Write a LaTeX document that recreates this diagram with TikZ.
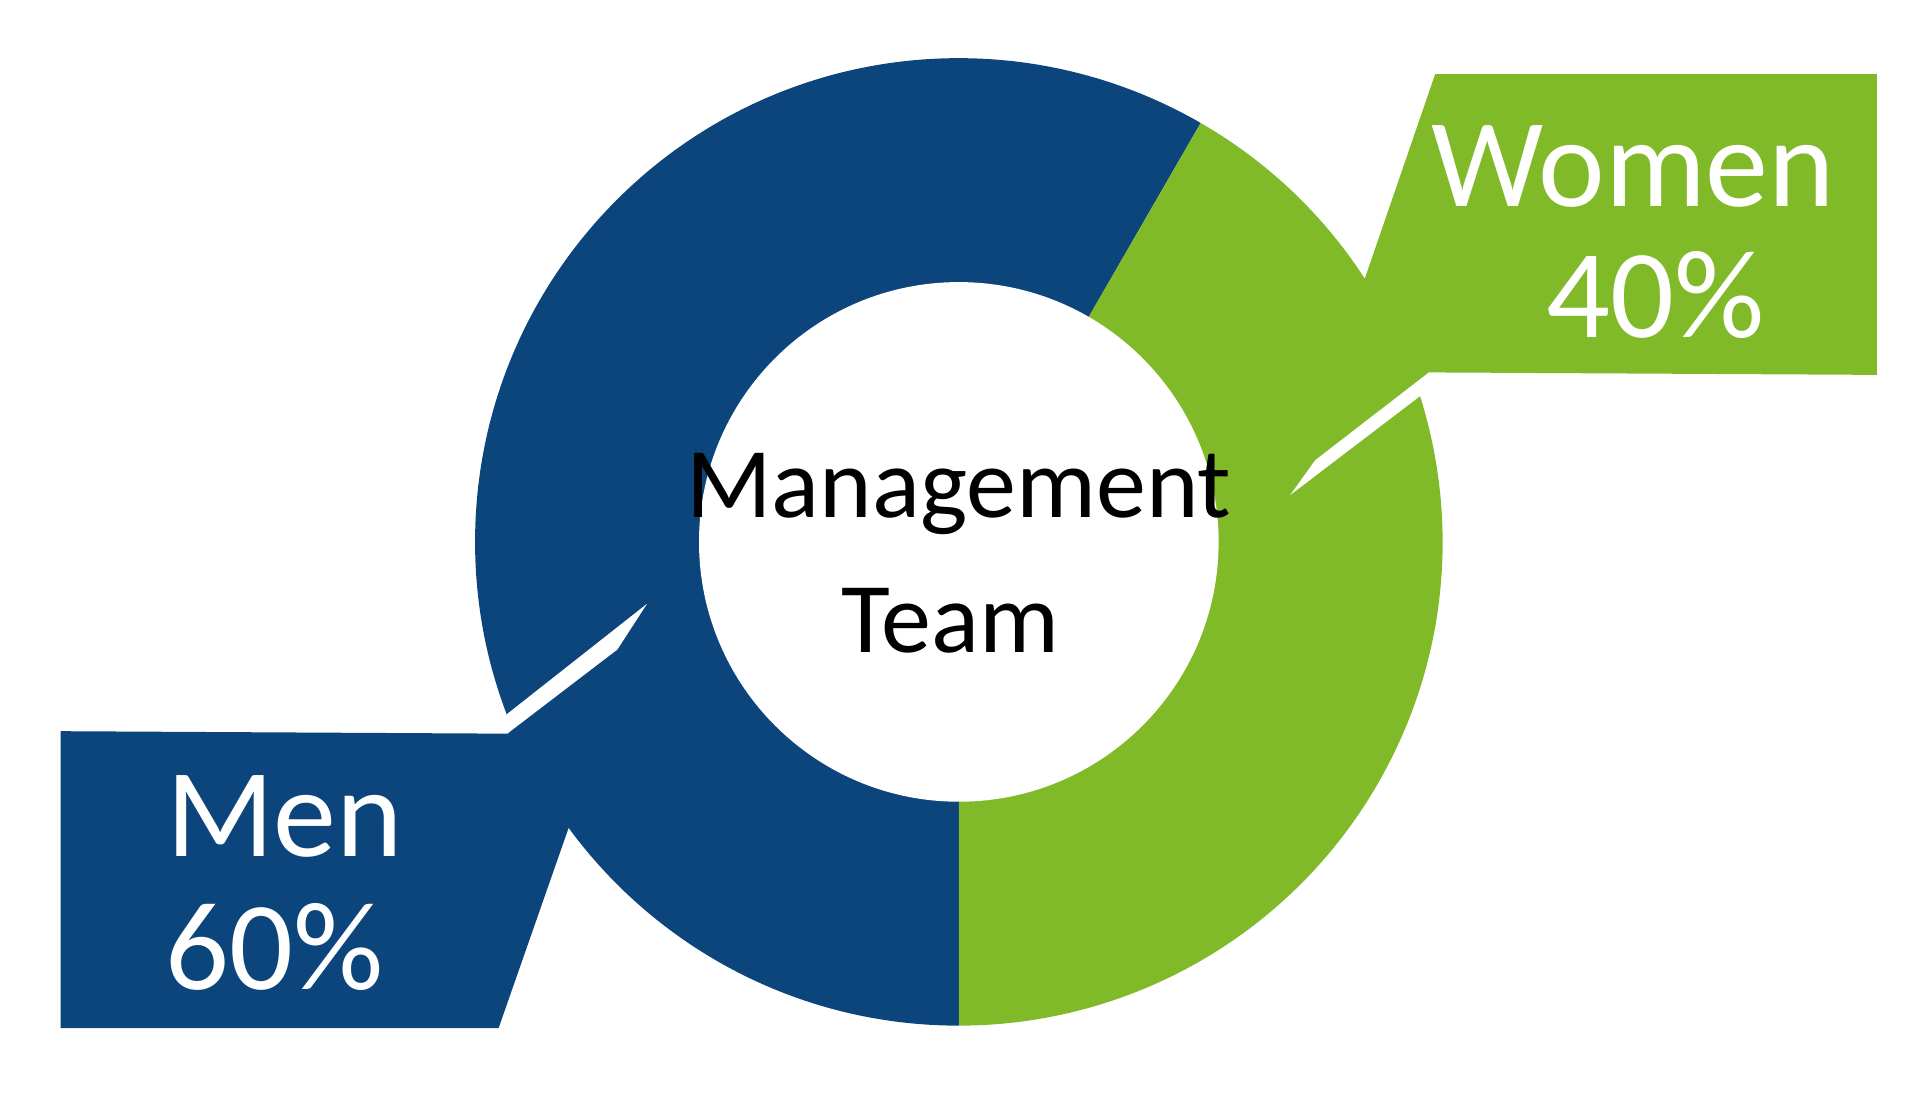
\documentclass[tikz,border=0pt]{standalone}
\usepackage{fontspec}
\setmainfont{Carlito}
\usetikzlibrary{positioning,calc}
\definecolor{menblue}{RGB}{12,69,124}
\definecolor{womengreen}{RGB}{128,186,40}
\begin{document}
\begin{tikzpicture}[
        x=0.01cm, y=-0.01cm,
        seg/.style={line width=0pt},
        gap/.style={fill=white, draw=none},
        big/.style={font=\fontsize{29}{34}\selectfont, color=white, inner sep=0pt},
        mid/.style={font=\fontsize{23}{27}\selectfont, color=black, inner sep=0pt},
    ]
    \useasboundingbox (0,0) rectangle (1560,896);
    \coordinate (c) at (775,438);
    % ring
    \fill[menblue] (c) -- ++(90:391) arc[start angle=90, end angle=300, radius=391] -- cycle;
    \fill[womengreen] (c) -- ++(-60:391) arc[start angle=-60, end angle=90, radius=391] -- cycle;
    \fill[white] (c) circle[radius=210];
    % callouts
    \fill[womengreen] (1160,60) -- (1517,60) -- (1517,303) -- (1155,301) -- (1043,400) -- cycle;
    \fill[gap] (1043,400) -- (1148,320) -- (1155,301) -- (1063,372) -- cycle;
    \fill[menblue] (49,591) -- (410,593) -- (523,488) -- (403,831) -- (49,831) -- cycle;
    \fill[gap] (410,577) -- (523,488) -- (499,525) -- (410,593) -- cycle;
    % labels
    \node[mid, anchor=base] (mgmt) at (775,418) {Management};
    \node[mid, anchor=base] (team) at (768,527) {Team};
    \node[big, anchor=base] (women) at (1320,167) {Women};
    \node[big, anchor=base] (wpct) at (1338,273) {40\%};
    \node[big, anchor=base] (men) at (230,692) {Men};
    \node[big, anchor=base] (mpct) at (222,800) {60\%};
\end{tikzpicture}
\end{document}
